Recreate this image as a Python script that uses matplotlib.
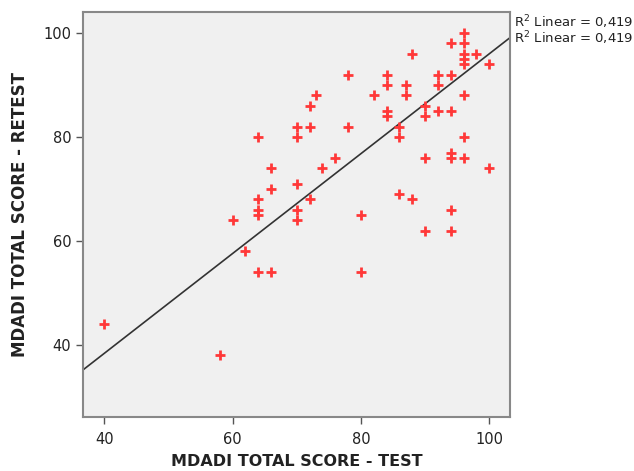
import numpy as np
import matplotlib
matplotlib.use("Agg")
import matplotlib.pyplot as plt

# MDADI total scores, test vs retest
test_score = [40, 58, 60, 62, 64, 64, 64, 64, 64, 66, 66, 66,
              70, 70, 70, 70, 70, 72, 72, 72, 73, 74, 76, 78, 78,
              80, 80, 82, 84, 84, 84, 84, 86, 86, 86, 87, 87, 88, 88,
              90, 90, 90, 90, 92, 92, 92, 94, 94, 94, 94, 94, 94, 94,
              96, 96, 96, 96, 96, 96, 96, 96, 98, 100, 100]
retest_score = [44, 38, 64, 58, 80, 68, 66, 65, 54, 74, 70, 54,
                82, 80, 71, 66, 64, 86, 82, 68, 88, 74, 76, 92, 82,
                65, 54, 88, 92, 90, 85, 84, 82, 80, 69, 90, 88, 96, 68,
                86, 84, 76, 62, 92, 90, 85, 98, 92, 85, 77, 76, 66, 62,
                100, 98, 96, 95, 94, 88, 80, 76, 96, 94, 74]

# fit line as drawn in the figure (retest = slope * test + intercept)
fit_slope = 0.96
fit_intercept = 0.0
r2_text = "R$^2$ Linear = 0,419"

plt.rcParams['font.family'] = ['DejaVu Sans']

fig = plt.figure(figsize=(6.34, 4.71), dpi=100)
ax = fig.add_axes([0.131, 0.115, 0.674, 0.859])
ax.set_facecolor('#f0f0f0')

ax.scatter(test_score, retest_score, marker='+', s=60, linewidths=2,
           color='#ff3838', zorder=3)

xlim = (36.7, 103.3)
xs = np.array(xlim)
ax.plot(xs, fit_slope * xs + fit_intercept, color='#333333', lw=1.2, zorder=2)

ax.set_xlim(xlim)
ax.set_ylim(26.2, 104)
ax.set_xticks([40, 60, 80, 100])
ax.set_yticks([40, 60, 80, 100])
ax.tick_params(direction='out', length=5, width=1, color='#555555',
               labelsize=10.5, labelcolor='#222222')
ax.tick_params(axis='x', pad=6)
for sp in ax.spines.values():
    sp.set_color('#888888')
    sp.set_linewidth(1.5)

ax.set_xlabel('MDADI TOTAL SCORE - TEST', fontsize=11.5, fontweight='bold',
              color='#222222', labelpad=5)
ax.set_ylabel('MDADI TOTAL SCORE - RETEST', fontsize=12, fontweight='bold',
              color='#222222', labelpad=10)

fig.text(0.811, 0.953, r2_text, fontsize=9.5, color='#222222', va='center')
fig.text(0.811, 0.918, r2_text, fontsize=9.5, color='#222222', va='center')

fig.savefig('out.png', dpi=100)
